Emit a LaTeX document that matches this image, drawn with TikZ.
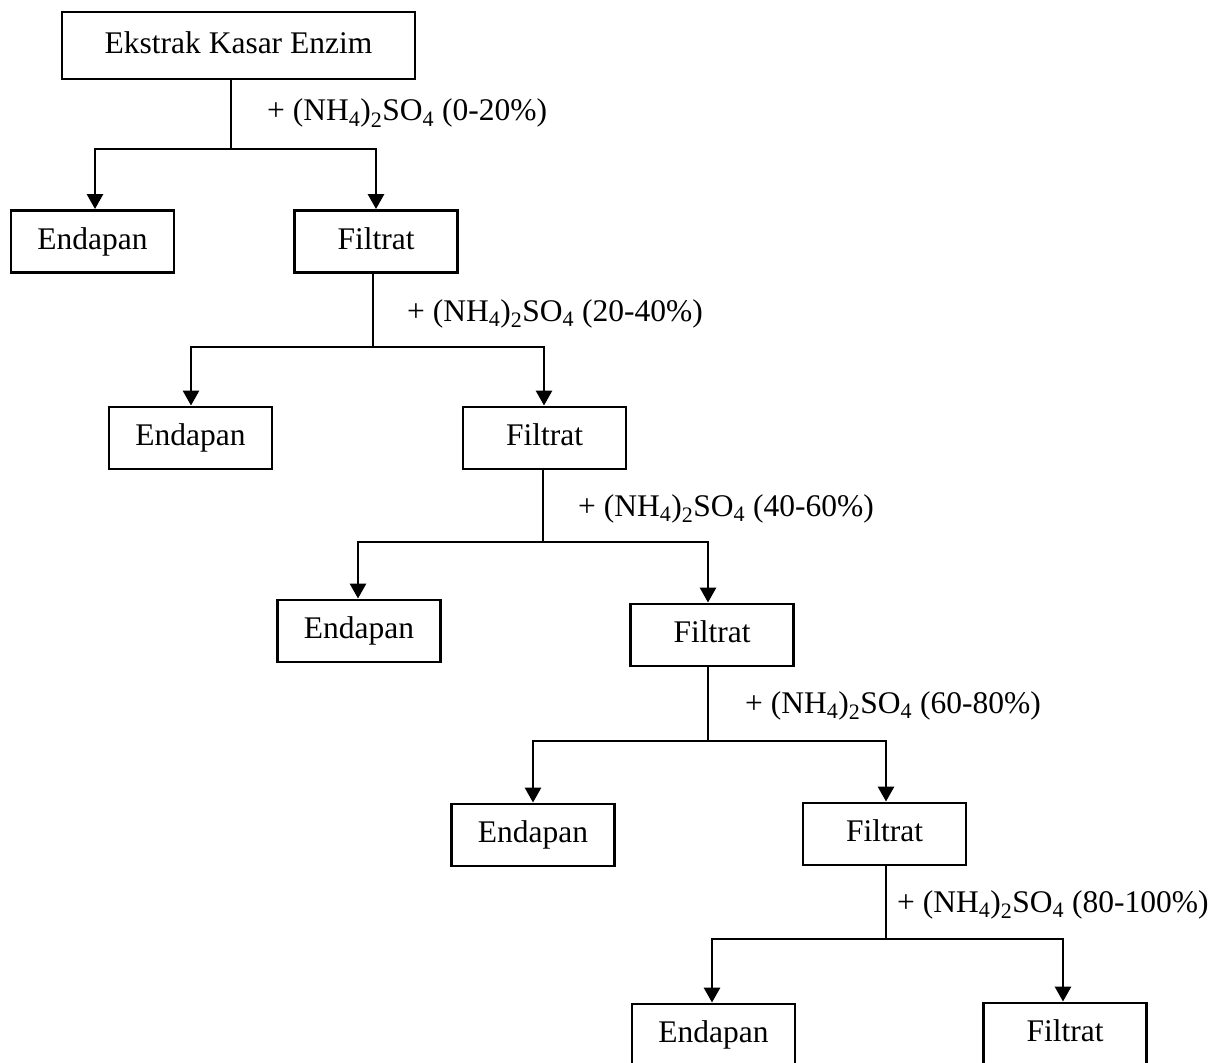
\documentclass[tikz,border=0pt]{standalone}
\usepackage{fontspec}
\setmainfont{Liberation Serif}
\usetikzlibrary{arrows.meta}
\begin{document}
\begin{tikzpicture}[x=1pt,y=-1pt,
  box/.style={draw, line width=2.9pt, minimum height=62pt, minimum width=163pt, inner sep=0pt,
    font=\fontsize{31.5}{36}\selectfont, text height=22pt, text depth=6.5pt},
  conn/.style={line width=2.9pt},
  arr/.style={line width=2.9pt, -{Triangle[length=15pt,width=16pt]}},
  lbl/.style={anchor=base west, inner sep=0pt, font=\fontsize{31.5}{36}\selectfont}]
\path[use as bounding box, clip] (0,0) rectangle (1225,1062);
\fill[white] (0,0) rectangle (1225,1062);

% boxes
\node[box, minimum width=353pt, minimum height=67pt] (ext) at (238.5,45.5) {Ekstrak Kasar Enzim};
\node[box] (e1) at (92.5,241.5) {Endapan};
\node[box] (f1) at (376,241.5) {Filtrat};
\node[box] (e2) at (190.5,438) {Endapan};
\node[box] (f2) at (544.5,438) {Filtrat};
\node[box] (e3) at (359,631) {Endapan};
\node[box] (f3) at (712,635) {Filtrat};
\node[box] (e4) at (533,835) {Endapan};
\node[box] (f4) at (884.5,834) {Filtrat};
\node[box] (e5) at (713.5,1035) {Endapan};
\node[box] (f5) at (1065,1034) {Filtrat};

% junction coordinates
\coordinate (j1) at (231,149); \coordinate (a1) at (95,149);  \coordinate (b1) at (376,149);
\coordinate (j2) at (373,347); \coordinate (a2) at (191,347); \coordinate (b2) at (544,347);
\coordinate (j3) at (543,542); \coordinate (a3) at (358,542); \coordinate (b3) at (708,542);
\coordinate (j4) at (708,741); \coordinate (a4) at (533,741); \coordinate (b4) at (886,741);
\coordinate (j5) at (886,939); \coordinate (a5) at (712,939); \coordinate (b5) at (1063,939);

% level 1
\draw[conn] (j1 |- ext.south) -- (j1);
\draw[arr] (j1) -- (a1) -- (a1 |- e1.north);
\draw[arr] (j1) -- (b1) -- (b1 |- f1.north);
\node[lbl] (l1) at (267,121) {+ (NH\textsubscript{4})\textsubscript{2}SO\textsubscript{4} (0-20\%)};

% level 2
\draw[conn] (j2 |- f1.south) -- (j2);
\draw[arr] (j2) -- (a2) -- (a2 |- e2.north);
\draw[arr] (j2) -- (b2) -- (b2 |- f2.north);
\node[lbl] (l2) at (407,321) {+ (NH\textsubscript{4})\textsubscript{2}SO\textsubscript{4} (20-40\%)};

% level 3
\draw[conn] (j3 |- f2.south) -- (j3);
\draw[arr] (j3) -- (a3) -- (a3 |- e3.north);
\draw[arr] (j3) -- (b3) -- (b3 |- f3.north);
\node[lbl] (l3) at (578,516) {+ (NH\textsubscript{4})\textsubscript{2}SO\textsubscript{4} (40-60\%)};

% level 4
\draw[conn] (j4 |- f3.south) -- (j4);
\draw[arr] (j4) -- (a4) -- (a4 |- e4.north);
\draw[arr] (j4) -- (b4) -- (b4 |- f4.north);
\node[lbl] (l4) at (745,713) {+ (NH\textsubscript{4})\textsubscript{2}SO\textsubscript{4} (60-80\%)};

% level 5
\draw[conn] (j5 |- f4.south) -- (j5);
\draw[arr] (j5) -- (a5) -- (a5 |- e5.north);
\draw[arr] (j5) -- (b5) -- (b5 |- f5.north);
\node[lbl] (l5) at (897,912) {+ (NH\textsubscript{4})\textsubscript{2}SO\textsubscript{4} (80-100\%)};
\end{tikzpicture}
\end{document}
